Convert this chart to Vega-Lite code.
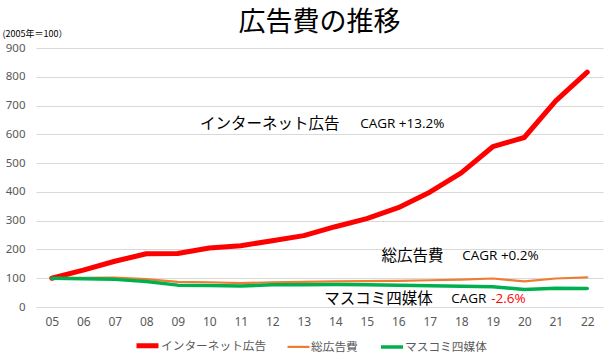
{
  "$schema": "https://vega.github.io/schema/vega-lite/v6.json",
  "width": 567,
  "height": 259,
  "autosize": {"type": "none"},
  "padding": {"left": 36, "top": 48, "right": 7, "bottom": 54},
  "background": "white",
  "title": {
    "text": "広告費の推移",
    "anchor": "middle",
    "fontSize": 27,
    "font": "Noto Sans CJK JP",
    "fontWeight": "normal",
    "color": "#000000",
    "offset": -8
  },
  "config": {
    "font": "Noto Sans CJK JP",
    "view": {"stroke": null}
  },
  "datasets": {
    "series": [
      {"year": 5, "series": "インターネット広告", "value": 100},
      {"year": 6, "series": "インターネット広告", "value": 128},
      {"year": 7, "series": "インターネット広告", "value": 159},
      {"year": 8, "series": "インターネット広告", "value": 185},
      {"year": 9, "series": "インターネット広告", "value": 186},
      {"year": 10, "series": "インターネット広告", "value": 205},
      {"year": 11, "series": "インターネット広告", "value": 213},
      {"year": 12, "series": "インターネット広告", "value": 230},
      {"year": 13, "series": "インターネット広告", "value": 248},
      {"year": 14, "series": "インターネット広告", "value": 279},
      {"year": 15, "series": "インターネット広告", "value": 307},
      {"year": 16, "series": "インターネット広告", "value": 345},
      {"year": 17, "series": "インターネット広告", "value": 399},
      {"year": 18, "series": "インターネット広告", "value": 466},
      {"year": 19, "series": "インターネット広告", "value": 557},
      {"year": 20, "series": "インターネット広告", "value": 589},
      {"year": 21, "series": "インターネット広告", "value": 716},
      {"year": 22, "series": "インターネット広告", "value": 816},
      {"year": 5, "series": "総広告費", "value": 100},
      {"year": 6, "series": "総広告費", "value": 101},
      {"year": 7, "series": "総広告費", "value": 102},
      {"year": 8, "series": "総広告費", "value": 97},
      {"year": 9, "series": "総広告費", "value": 87},
      {"year": 10, "series": "総広告費", "value": 86},
      {"year": 11, "series": "総広告費", "value": 83},
      {"year": 12, "series": "総広告費", "value": 86},
      {"year": 13, "series": "総広告費", "value": 87},
      {"year": 14, "series": "総広告費", "value": 89},
      {"year": 15, "series": "総広告費", "value": 90},
      {"year": 16, "series": "総広告費", "value": 91},
      {"year": 17, "series": "総広告費", "value": 93},
      {"year": 18, "series": "総広告費", "value": 95},
      {"year": 19, "series": "総広告費", "value": 99},
      {"year": 20, "series": "総広告費", "value": 89},
      {"year": 21, "series": "総広告費", "value": 99},
      {"year": 22, "series": "総広告費", "value": 103},
      {"year": 5, "series": "マスコミ四媒体", "value": 100},
      {"year": 6, "series": "マスコミ四媒体", "value": 98},
      {"year": 7, "series": "マスコミ四媒体", "value": 96},
      {"year": 8, "series": "マスコミ四媒体", "value": 89},
      {"year": 9, "series": "マスコミ四媒体", "value": 76},
      {"year": 10, "series": "マスコミ四媒体", "value": 75},
      {"year": 11, "series": "マスコミ四媒体", "value": 73},
      {"year": 12, "series": "マスコミ四媒体", "value": 77},
      {"year": 13, "series": "マスコミ四媒体", "value": 77},
      {"year": 14, "series": "マスコミ四媒体", "value": 78},
      {"year": 15, "series": "マスコミ四媒体", "value": 77},
      {"year": 16, "series": "マスコミ四媒体", "value": 76},
      {"year": 17, "series": "マスコミ四媒体", "value": 74},
      {"year": 18, "series": "マスコミ四媒体", "value": 72},
      {"year": 19, "series": "マスコミ四媒体", "value": 70},
      {"year": 20, "series": "マスコミ四媒体", "value": 61},
      {"year": 21, "series": "マスコミ四媒体", "value": 65},
      {"year": 22, "series": "マスコミ四媒体", "value": 64}
    ]
  },
  "encoding": {
    "x": {
      "field": "year",
      "type": "quantitative",
      "scale": {"domain": [4.5, 22.5], "nice": false, "zero": false},
      "axis": {
        "title": null,
        "values": [5, 6, 7, 8, 9, 10, 11, 12, 13, 14, 15, 16, 17, 18, 19, 20, 21, 22],
        "format": "02d",
        "grid": false,
        "ticks": false,
        "domain": true,
        "domainColor": "#d9d9d9",
        "labelColor": "#595959",
        "labelFontSize": 12,
        "labelPadding": 9,
        "labelOverlap": false,
        "labelFlush": false,
        "labelFont": "Noto Sans"
      }
    },
    "y": {
      "field": "value",
      "type": "quantitative",
      "scale": {"domain": [0, 900], "nice": false},
      "axis": {
        "title": "(2005年＝100）",
        "titleAngle": 0,
        "titleAlign": "left",
        "titleBaseline": "middle",
        "titleX": -34,
        "titleY": -15,
        "titleFontSize": 9,
        "titleFontWeight": "normal",
        "titleColor": "#000000",
        "values": [0, 100, 200, 300, 400, 500, 600, 700, 800, 900],
        "grid": true,
        "gridColor": "#d9d9d9",
        "gridWidth": 1,
        "ticks": false,
        "domain": false,
        "labelColor": "#595959",
        "labelFontSize": 11.5,
        "labelPadding": 11,
        "labelOverlap": false,
        "labelFlush": false,
        "labelFont": "Noto Sans"
      }
    }
  },
  "layer": [
    {
      "data": {"name": "series"},
      "mark": {"type": "line", "strokeCap": "round", "strokeJoin": "round"},
      "encoding": {
        "color": {
          "field": "series",
          "type": "nominal",
          "scale": {
            "domain": ["インターネット広告", "総広告費", "マスコミ四媒体"],
            "range": ["#ff0000", "#ed7d31", "#00b050"]
          },
          "legend": {
            "title": null,
            "orient": "none",
            "legendX": 98,
            "legendY": 284,
            "direction": "horizontal",
            "symbolType": "stroke",
            "symbolSize": 484,
            "labelFontSize": 11.7,
            "labelColor": "#595959",
            "labelOffset": 0,
            "columnPadding": 16
          }
        },
        "strokeWidth": {
          "field": "series",
          "type": "nominal",
          "scale": {
            "type": "ordinal",
            "domain": ["インターネット広告", "総広告費", "マスコミ四媒体"],
            "range": [5, 2.2, 3.5]
          },
          "legend": {
            "title": null,
            "orient": "none",
            "legendX": 98,
            "legendY": 284,
            "direction": "horizontal",
            "symbolType": "stroke",
            "symbolSize": 484,
            "labelFontSize": 11.7,
            "labelColor": "#595959",
            "labelOffset": 0,
            "columnPadding": 16
          }
        }
      }
    },
    {
      "data": {"values": [
        {"year": 9.71, "value": 636, "label": "インターネット広告"},
        {"year": 15.47, "value": 177, "label": "総広告費"},
        {"year": 13.65, "value": 27, "label": "マスコミ四媒体"}
      ]},
      "mark": {"type": "text", "align": "left", "baseline": "middle", "fontSize": 15.5, "color": "#000000"},
      "encoding": {
        "text": {"field": "label"}
      }
    },
    {
      "data": {"values": [
        {"year": 14.79, "value": 636, "label": "CAGR +13.2%"},
        {"year": 18.03, "value": 177, "label": "CAGR +0.2%"},
        {"year": 17.68, "value": 27, "label": "CAGR"}
      ]},
      "mark": {"type": "text", "align": "left", "baseline": "middle", "fontSize": 13.5, "color": "#000000", "font": "Open Sans"},
      "encoding": {
        "text": {"field": "label"}
      }
    },
    {
      "data": {"values": [
        {"year": 18.95, "value": 27, "label": "-2.6%"}
      ]},
      "mark": {"type": "text", "align": "left", "baseline": "middle", "fontSize": 13.5, "color": "#ff0000", "font": "Open Sans"},
      "encoding": {
        "text": {"field": "label"}
      }
    }
  ]
}
